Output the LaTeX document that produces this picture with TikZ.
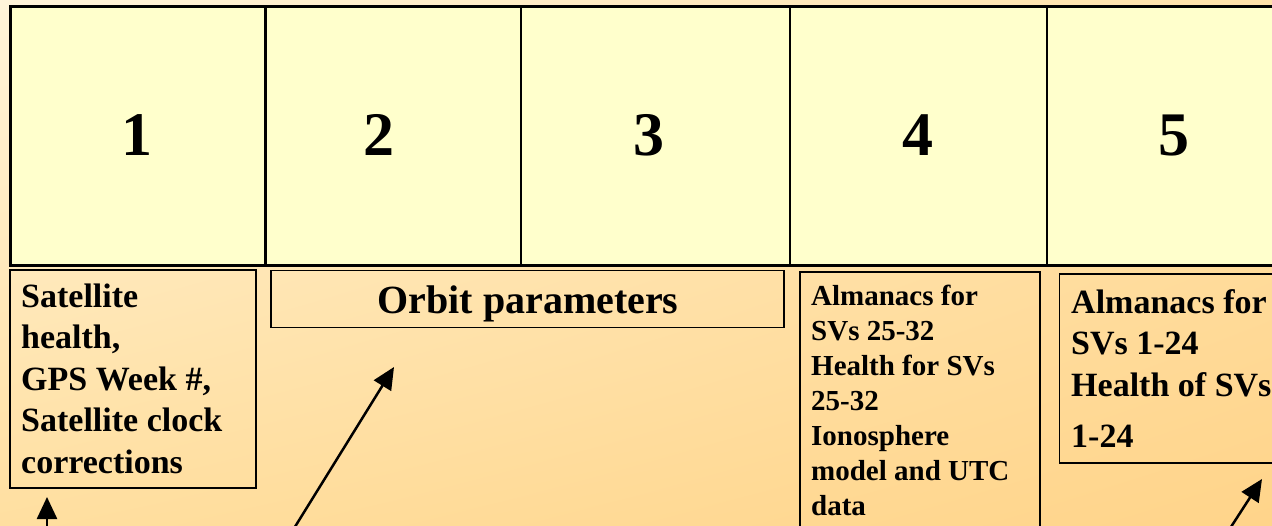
\documentclass[tikz,border=0pt]{standalone}
\usepackage{fontspec}
\setmainfont{Liberation Serif}
\usetikzlibrary{arrows.meta,shadings}
\definecolor{bgTL}{HTML}{FFF4DA}
\definecolor{bgTR}{HTML}{FFE2AA}
\definecolor{bgBL}{HTML}{FFDFA0}
\definecolor{bgBR}{HTML}{FFD48A}
\definecolor{cellfill}{HTML}{FFFFCC}
\begin{document}
\begin{tikzpicture}[x=1pt,y=-1pt,
  cell/.style={draw=black, line width=2.5pt, fill=cellfill, anchor=north west, inner sep=0pt, outer sep=0pt},
  num/.style={font=\bfseries\fontsize{62}{62}\selectfont, inner sep=0pt, anchor=base},
  infobox/.style={draw=black, line width=1.8pt, anchor=north west, inner sep=0pt, outer sep=0pt},
  bigtext/.style={font=\bfseries\fontsize{34}{41.5}\selectfont, inner sep=0pt, anchor=base west},
  smalltext/.style={font=\bfseries\fontsize{29}{35}\selectfont, inner sep=0pt, anchor=base west},
  orbittext/.style={font=\bfseries\fontsize{40}{48}\selectfont, inner sep=0pt, anchor=base},
  arr/.style={line width=2.5pt, -{Triangle[length=22pt,width=20pt]}}]
\useasboundingbox (0,0) rectangle (1272,525);
\clip (0,0) rectangle (1272,525);
\shade[upper left=bgTL, upper right=bgTR, lower left=bgBL, lower right=bgBR] (0,0) rectangle (1272,525);

% top cells
\node[cell, minimum width=255pt, minimum height=259pt] (c1) at (10.5,6.5) {};
\node[cell, minimum width=255.5pt, minimum height=259pt] (c2) at (265.5,6.5) {};
\node[cell, minimum width=269pt, minimum height=259pt] (c3) at (521,6.5) {};
\node[cell, minimum width=257pt, minimum height=259pt] (c4) at (790,6.5) {};
\node[cell, minimum width=260pt, minimum height=259pt] (c5) at (1047,6.5) {};

\node[num] (n1) at (137,155) {1};
\node[num] (n2) at (378.5,155) {2};
\node[num] (n3) at (648.5,155) {3};
\node[num] (n4) at (918,155) {4};
\node[num] (n5) at (1173.5,155) {5};

% info boxes
\node[infobox, minimum width=246pt, minimum height=218pt] (bA) at (10,270) {};
\node[infobox, minimum width=513pt, minimum height=57pt] (bB) at (271,270.5) {};
\node[infobox, minimum width=240pt, minimum height=280pt] (bC) at (800,272) {};
\node[infobox, minimum width=240pt, minimum height=189pt] (bD) at (1059.5,274) {};

\node[bigtext] (tA) at (21,307) {\vtop{\hbox{Satellite}\hbox{health,}\hbox{GPS Week \#,}\hbox{Satellite clock}\hbox{corrections}}};
\node[orbittext] (tB) at (528,313) {Orbit parameters};
\node[smalltext] (tC) at (811,305) {\vtop{\hbox{Almanacs for}\hbox{SVs 25-32}\hbox{Health for SVs}\hbox{25-32}\hbox{Ionosphere}\hbox{model and UTC}\hbox{data}}};
\node[bigtext] (tD) at (1071,313) {\vtop{\hbox{Almanacs for}\hbox{SVs 1-24}\hbox{Health of SVs}\vskip 10pt\hbox{1-24}}};

% arrows
\coordinate (a1s) at (47,530);
\coordinate (a1e) at (47,497);
\coordinate (a2s) at (293,530);
\coordinate (a2e) at (394,367);
\coordinate (a3s) at (1229,530);
\coordinate (a3e) at (1262,479);
\draw[arr] (a1s) -- (a1e);
\draw[arr] (a2s) -- (a2e);
\draw[arr] (a3s) -- (a3e);
\end{tikzpicture}
\end{document}
